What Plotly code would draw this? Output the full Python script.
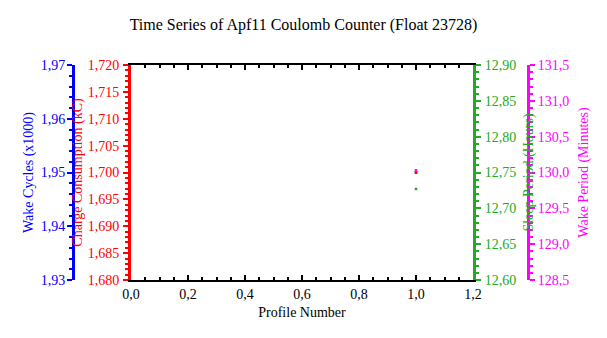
import plotly.graph_objects as go

# Data
profile = [1.0]
wake_cycles = [1.95]          # x1000
charge = [1.700]              # kC
sleep_period = [12.727]       # hours
wake_period = [130.03]        # minutes

BLUE = "#0000ff"
RED = "#ff0000"
GREEN = "#22aa22"
MAGENTA = "#ff00ff"
FONT = "Liberation Serif"

W, H = 607, 338
x0, x1 = 131 / W, 473 / W
yb, yt = (H - 280) / H, (H - 65) / H

fig = go.Figure()
mk = dict(symbol="square", size=2.5, line=dict(width=0))
fig.add_trace(go.Scatter(x=profile, y=wake_cycles, yaxis="y", mode="markers",
                         marker=dict(color=BLUE, **mk), showlegend=False))
fig.add_trace(go.Scatter(x=profile, y=charge, yaxis="y2", mode="markers",
                         marker=dict(color=RED, **mk), showlegend=False))
fig.add_trace(go.Scatter(x=profile, y=sleep_period, yaxis="y3", mode="markers",
                         marker=dict(color=GREEN, **mk), showlegend=False))
fig.add_trace(go.Scatter(x=profile, y=wake_period, yaxis="y4", mode="markers",
                         marker=dict(color=MAGENTA, **mk), showlegend=False))

def yax(color, rng, dtick, minor, fmt, title, lstand, tstand, **kw):
    d = dict(
        range=rng, dtick=dtick, tick0=rng[0], tickformat=fmt,
        showgrid=False, zeroline=False,
        showline=True, linecolor=color, linewidth=3,
        ticks="outside", ticklen=5, tickwidth=2, tickcolor=color,
        minor=dict(dtick=minor, ticks="outside", ticklen=3, tickwidth=1.5,
                   tickcolor=color, showgrid=False),
        ticklabelstandoff=lstand,
        tickfont=dict(family=FONT, size=14, color=color),
        title=dict(text=title, font=dict(family=FONT, size=14, color=color),
                   standoff=tstand),
        automargin=False,
    )
    d.update(kw)
    return d

fig.update_layout(
    width=W, height=H,
    margin=dict(l=0, r=0, t=0, b=0, autoexpand=False),
    paper_bgcolor="white", plot_bgcolor="white",
    separators=", ",
    font=dict(family=FONT, size=14, color="black"),
    title=dict(text="Time Series of Apf11 Coulomb Counter (Float 23728)",
               x=0.5, xanchor="center", y=1 - 24 / H, yanchor="middle",
               font=dict(family=FONT, size=16, color="black")),
    xaxis=dict(
        domain=[x0, x1], range=[0, 1.2], dtick=0.2, tick0=0, tickformat=".1f",
        anchor="y2",
        showgrid=False, zeroline=False,
        showline=True, linecolor="black", linewidth=2, mirror="ticks",
        ticks="inside", ticklen=5, tickwidth=2, tickcolor="black",
        minor=dict(dtick=0.05, ticks="inside", ticklen=3, tickwidth=1.5,
                   tickcolor="black", showgrid=False),
        ticklabelstandoff=0,
        tickfont=dict(family=FONT, size=14, color="black"),
        title=dict(text="Profile Number", font=dict(family=FONT, size=14, color="black"),
                   standoff=6),
        automargin=False,
    ),
    yaxis=yax(BLUE, [1.93, 1.97], 0.01, 0.002, ".2f", "Wake Cycles (x1000)", -1, 2,
              domain=[yb, yt], anchor="free", position=73 / W, side="left"),
    yaxis2=yax(RED, [1.68, 1.72], 0.005, 0.001, ".3f", "Charge Consumption (kC)", 1, 2,
               overlaying="y", anchor="x", side="left"),
    yaxis3=yax(GREEN, [12.6, 12.9], 0.05, 0.01, ".2f", "Sleep Period (Hours)", 1, 8,
               overlaying="y", anchor="x", side="right"),
    yaxis4=yax(MAGENTA, [128.5, 131.5], 0.5, 0.1, ".1f", "Wake Period (Minutes)", 0, 9,
               overlaying="y", anchor="free", position=528 / W, side="right"),
)

fig.write_html("out.html")
